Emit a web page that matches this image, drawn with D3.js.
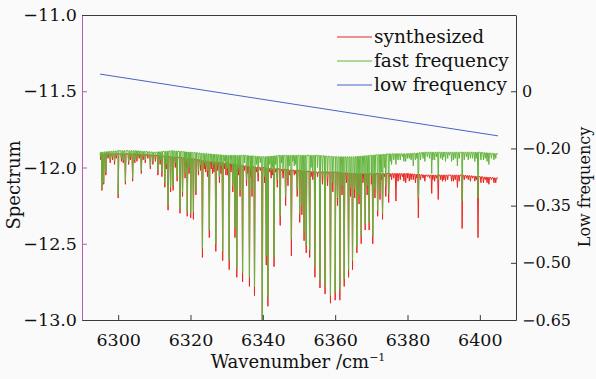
<!DOCTYPE html>
<html><head><meta charset="utf-8">
<script src="https://cdn.jsdelivr.net/npm/d3@7"></script>
<style>
html,body{margin:0;padding:0;background:#fafafa;}
svg{display:block;}
text{font-family:"DejaVu Serif",serif;fill:#111;}
</style></head>
<body>
<script>
// ---------- data ----------
const xTicks = [6300, 6320, 6340, 6360, 6380, 6400];
const leftTicks = [-11.0, -11.5, -12.0, -12.5, -13.0];
const rightTickValues = [-0.05, -0.20, -0.35, -0.50, -0.65];
const rightTickLabels = ["0", "\u22120.20", "\u22120.35", "\u22120.50", "\u22120.65"];

const seriesNames = ["synthesized", "fast frequency", "low frequency"];
const seriesColors = ["#e8261f", "#62b53a", "#4563c8"];

// continuum (top) levels of the two spectra
const baseX = [6295,6300,6305,6310,6315,6320,6325,6330,6335,6340,6345,6350,6355,6360,6365,6370,6375,6380,6385,6390,6395,6400,6405];
const fastBase = [-11.90,-11.89,-11.89,-11.90,-11.89,-11.90,-11.91,-11.92,-11.92,-11.93,-11.92,-11.92,-11.92,-11.93,-11.93,-11.92,-11.91,-11.91,-11.90,-11.90,-11.90,-11.90,-11.91];
const synthBase = [-11.91,-11.91,-11.91,-11.92,-11.93,-11.94,-11.96,-11.97,-11.99,-12.00,-12.01,-12.02,-12.03,-12.03,-12.04,-12.04,-12.04,-12.04,-12.05,-12.05,-12.05,-12.06,-12.07];

// strong absorption lines: wavenumber, fast-frequency minimum, synthesized minimum
const lineCenter = [6295.5,6296.0,6296.6,6297.8,6299.0,6300.0,6300.9,6302.0,6302.9,6304.0,6305.2,6306.4,6307.5,6308.9,6309.6,6311.0,6312.1,6312.9,6313.8,6314.5,6315.2,6316.3,6317.1,6317.8,6318.5,6319.1,6320.05,6320.8,6321.5,6322.2,6323.3,6324.2,6325.2,6326.1,6327.0,6328.0,6328.9,6329.8,6330.7,6331.7,6332.3,6332.8,6333.7,6334.4,6335.5,6336.3,6337.0,6337.7,6338.7,6339.85,6340.5,6340.95,6341.4,6342.3,6343.1,6344.0,6344.8,6345.6,6346.3,6346.95,6347.9,6348.7,6349.5,6350.2,6350.8,6351.4,6352.0,6352.95,6353.8,6354.4,6355.1,6355.8,6356.5,6357.2,6357.9,6358.7,6359.35,6360.0,6360.65,6361.3,6361.9,6362.5,6363.1,6363.7,6364.25,6364.8,6365.4,6366.0,6366.6,6367.2,6367.7,6368.3,6368.85,6369.4,6370.4,6371.0,6371.75,6372.4,6373.1,6374.0,6374.8,6375.6,6376.8,6377.4,6378.0,6379.5,6380.5,6381.6,6382.2,6383.0,6384.3,6385.5,6386.7,6387.5,6388.5,6389.2,6390.0,6391.6,6392.7,6393.8,6394.3,6395.1,6396.8,6397.4,6398.0,6399.5,6400.3,6401.0,6402.5,6403.9,6404.4];
const fastMin = [-12.14,-12.10,-12.03,-11.95,-11.96,-12.18,-11.94,-12.09,-11.96,-12.07,-11.94,-12.02,-11.95,-11.99,-11.96,-12.02,-12.03,-12.10,-12.25,-12.13,-12.12,-12.06,-12.27,-12.16,-12.04,-12.29,-12.30,-12.29,-12.15,-12.02,-12.53,-11.99,-12.41,-12.00,-12.50,-12.06,-12.55,-12.01,-12.61,-12.12,-12.40,-12.67,-12.15,-12.69,-12.08,-12.72,-12.15,-12.78,-12.04,-13.10,-12.06,-12.58,-12.85,-12.02,-12.59,-12.08,-12.32,-12.02,-12.19,-12.07,-12.47,-11.99,-12.14,-12.30,-12.25,-12.42,-12.51,-12.54,-12.03,-12.65,-12.00,-12.74,-12.05,-12.78,-12.06,-12.84,-12.10,-12.82,-12.20,-12.80,-12.12,-12.73,-12.04,-12.67,-12.13,-12.61,-12.14,-12.52,-12.18,-12.45,-12.04,-12.37,-12.12,-12.36,-12.45,-12.14,-12.28,-12.17,-12.30,-12.12,-12.17,-11.98,-11.98,-11.95,-11.95,-11.96,-11.94,-11.99,-11.95,-12.20,-11.94,-11.93,-12.04,-11.95,-12.08,-11.94,-11.93,-11.92,-11.95,-11.99,-11.94,-12.22,-11.95,-11.94,-11.94,-12.20,-11.95,-11.95,-11.98,-11.95,-11.94];
const synthMin = [-12.15,-12.11,-12.05,-11.97,-11.98,-12.20,-11.96,-12.11,-11.98,-12.09,-11.96,-12.04,-11.97,-12.01,-11.98,-12.05,-12.06,-12.13,-12.28,-12.16,-12.15,-12.09,-12.30,-12.19,-12.07,-12.32,-12.33,-12.34,-12.18,-12.05,-12.59,-12.03,-12.46,-12.04,-12.55,-12.10,-12.61,-12.05,-12.67,-12.16,-12.46,-12.72,-12.19,-12.75,-12.12,-12.78,-12.19,-12.84,-12.09,-13.15,-12.10,-12.64,-12.91,-12.07,-12.65,-12.13,-12.38,-12.07,-12.25,-12.12,-12.58,-12.05,-12.19,-12.36,-12.31,-12.48,-12.56,-12.59,-12.08,-12.72,-12.06,-12.79,-12.11,-12.83,-12.12,-12.89,-12.16,-12.87,-12.25,-12.87,-12.18,-12.78,-12.10,-12.72,-12.19,-12.67,-12.20,-12.56,-12.24,-12.50,-12.10,-12.41,-12.18,-12.41,-12.50,-12.20,-12.32,-12.21,-12.34,-12.19,-12.23,-12.08,-12.22,-12.09,-12.08,-12.10,-12.09,-12.08,-12.10,-12.33,-12.07,-12.06,-12.17,-12.09,-12.21,-12.08,-12.08,-12.05,-12.09,-12.13,-12.09,-12.40,-12.08,-12.09,-12.07,-12.46,-12.10,-12.10,-12.11,-12.10,-12.10];

// weak lines (texture of the continuum)
const weakCenter = [6295.2,6297.2,6298.4,6299.5,6301.4,6303.4,6304.6,6305.8,6306.9,6308.2,6310.3,6311.6,6313.3,6315.8,6318.8,6319.6,6322.8,6323.8,6324.7,6325.7,6326.5,6327.5,6328.45,6329.35,6330.25,6331.2,6333.25,6334.95,6335.9,6336.65,6338.2,6339.3,6341.85,6342.7,6343.55,6345.2,6347.4,6348.3,6349.1,6353.35,6370.0,6372.75,6373.6,6375.2,6376.2,6378.6,6379.0,6380.0,6381.0,6382.6,6383.6,6384.8,6386.1,6387.0,6388.0,6389.7,6390.5,6391.1,6392.2,6393.2,6395.7,6396.3,6398.6,6399.0,6401.5,6402.0,6403.2];
const weakFast = [-11.93,-11.92,-11.93,-11.92,-11.95,-11.93,-11.95,-11.92,-11.93,-11.92,-11.93,-11.95,-11.98,-11.97,-11.96,-12.00,-11.98,-11.97,-12.02,-11.96,-11.98,-11.97,-11.99,-11.96,-12.00,-11.98,-12.00,-11.97,-11.99,-12.01,-11.98,-11.97,-11.98,-12.00,-11.98,-11.97,-11.99,-11.96,-11.98,-12.00,-12.05,-12.03,-12.00,-11.96,-11.95,-11.93,-11.96,-11.94,-11.95,-11.94,-11.95,-11.96,-11.94,-11.95,-11.93,-11.95,-11.96,-11.94,-11.96,-11.94,-11.95,-11.93,-11.96,-11.94,-11.94,-11.96,-11.94];
const weakSynth = [-11.95,-11.94,-11.95,-11.94,-11.97,-11.95,-11.97,-11.94,-11.95,-11.94,-11.96,-11.98,-12.01,-12.00,-12.00,-12.04,-12.02,-12.01,-12.06,-12.01,-12.03,-12.02,-12.04,-12.01,-12.05,-12.03,-12.05,-12.02,-12.04,-12.06,-12.03,-12.02,-12.03,-12.05,-12.03,-12.02,-12.05,-12.02,-12.04,-12.06,-12.11,-12.08,-12.06,-12.06,-12.07,-12.06,-12.09,-12.07,-12.08,-12.07,-12.08,-12.09,-12.07,-12.08,-12.07,-12.09,-12.09,-12.08,-12.09,-12.08,-12.08,-12.07,-12.09,-12.08,-12.08,-12.10,-12.08];
const spectrumStart = 6295, spectrumEnd = 6405;

// low-frequency component (right axis)
const lowX = [6295, 6405];
const lowY = [-0.005, -0.167];

// ---------- layout ----------
const W = 596, H = 379;
const L = 82, R = 516, T = 15, B = 320;
const svg = d3.select("body").append("svg").attr("width", W).attr("height", H);

const x = d3.scaleLinear().domain([6290, 6410]).range([L, R]);
const yL = d3.scaleLinear().domain([-13, -11]).range([B, T]);
const yR = d3.scaleLinear().domain([-0.65, 0.15]).range([B, T]);

svg.append("defs").append("clipPath").attr("id", "clip")
  .append("rect").attr("x", L).attr("y", T).attr("width", R - L).attr("height", B - T);

const baseAt = (arr, w) => {
  const i = Math.max(1, Math.min(baseX.length - 1, d3.bisectLeft(baseX, w)));
  const t = (w - baseX[i - 1]) / (baseX[i] - baseX[i - 1]);
  return arr[i - 1] + t * (arr[i] - arr[i - 1]);
};
function spectrum(base, centers, mins) {
  const pts = [];
  baseX.forEach((w, i) => pts.push([w, base[i]]));
  centers.forEach((c, i) => {
    pts.push([c - 0.17, baseAt(base, c - 0.17)]);
    pts.push([c, mins[i]]);
    pts.push([c + 0.17, baseAt(base, c + 0.17)]);
  });
  return pts.filter(p => p[0] >= spectrumStart && p[0] <= spectrumEnd).sort((a, b) => a[0] - b[0]);
}
const synthPts = spectrum(synthBase, lineCenter.concat(weakCenter), synthMin.concat(weakSynth));
const fastPts = spectrum(fastBase, lineCenter.concat(weakCenter), fastMin.concat(weakFast));

const line = d3.line().x(d => x(d[0])).y(d => yL(d[1]));
const g = svg.append("g").attr("clip-path", "url(#clip)");
g.append("path").attr("d", line(synthPts))
  .attr("fill", "none").attr("stroke", seriesColors[0]).attr("stroke-width", 1);
g.append("path").attr("d", line(fastPts))
  .attr("fill", "none").attr("stroke", seriesColors[1]).attr("stroke-width", 1);
const lowLine = d3.line().x((d, i) => x(lowX[i])).y(d => yR(d));
g.append("path").attr("d", lowLine(lowY))
  .attr("fill", "none").attr("stroke", seriesColors[2]).attr("stroke-width", 1);

// ---------- axes ----------
const axisColor = "#3a3a3a", leftColor = "#b45cb4";
const fmt = d3.format(".1f");
const gl = svg.append("g").attr("transform", `translate(${L},0)`)
  .call(d3.axisLeft(yL).tickValues(leftTicks).tickFormat(fmt).tickSizeInner(-5).tickSizeOuter(0).tickPadding(5));
gl.select(".domain").attr("stroke", leftColor);
gl.selectAll(".tick line").attr("stroke", leftColor);

const gb = svg.append("g").attr("transform", `translate(0,${B})`)
  .call(d3.axisBottom(x).tickValues(xTicks).tickFormat(d3.format("d")).tickSizeInner(-5).tickSizeOuter(0).tickPadding(14));
gb.select(".domain").attr("stroke", axisColor);
gb.selectAll(".tick line").attr("stroke", axisColor);

const gr = svg.append("g").attr("transform", `translate(${R},0)`)
  .call(d3.axisRight(yR).tickValues(rightTickValues).tickFormat((d, i) => rightTickLabels[i]).tickSizeInner(-5).tickSizeOuter(0).tickPadding(6));
gr.select(".domain").attr("stroke", axisColor);
gr.selectAll(".tick line").attr("stroke", axisColor);

svg.append("line").attr("x1", L).attr("x2", R).attr("y1", T + 0.5).attr("y2", T + 0.5).attr("stroke", axisColor);

svg.selectAll(".tick text").style("font-family", "DejaVu Serif").style("font-size", "17.5px").attr("fill", "#111");
gr.selectAll(".tick text").style("font-size", "16px");

// ---------- titles ----------
const xt = svg.append("text").attr("x", 298).attr("y", 368).attr("text-anchor", "middle").style("font-size", "18px");
xt.append("tspan").text("Wavenumber /cm");
xt.append("tspan").text("\u22121").attr("dy", -7).style("font-size", "11px");

svg.append("text").attr("transform", "translate(20,185) rotate(-90)").attr("text-anchor", "middle").style("font-size", "18px").text("Spectrum");
svg.append("text").attr("transform", "translate(590,187) rotate(-90)").attr("text-anchor", "middle").style("font-size", "16px").text("Low frequency");

// ---------- legend ----------
const lg = svg.append("g");
seriesNames.forEach((n, i) => {
  const yy = 37 + i * 24;
  lg.append("line").attr("x1", 337).attr("x2", 372).attr("y1", yy).attr("y2", yy).attr("stroke", seriesColors[i]).attr("stroke-width", 1);
  lg.append("text").attr("x", 374).attr("y", yy).attr("dy", "0.32em").style("font-size", "18.5px").text(n);
});
</script>
</body></html>
